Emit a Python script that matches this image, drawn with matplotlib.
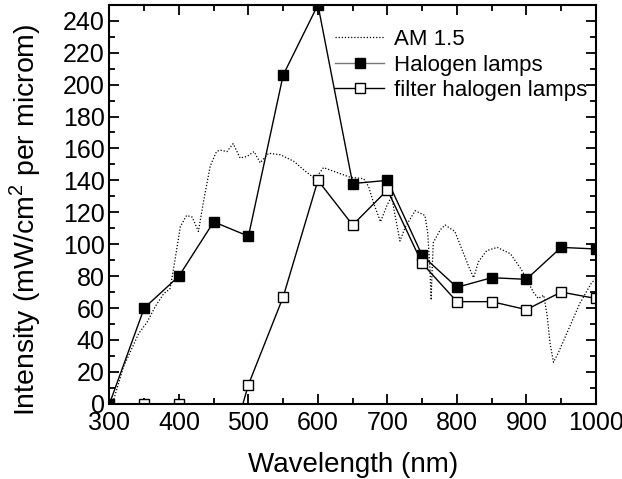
import matplotlib
matplotlib.use("Agg")
import matplotlib.pyplot as plt
from matplotlib.ticker import MultipleLocator

plt.rcParams['font.family'] = ['Liberation Sans', 'DejaVu Sans']
plt.rcParams['mathtext.fontset'] = 'custom'
plt.rcParams['mathtext.rm'] = 'Liberation Sans'

# AM 1.5 spectrum
am_wl = [305, 320, 342, 354, 366, 378, 387, 392, 402, 411, 419, 428, 435, 445, 454,
         459, 469, 478, 488, 498, 508, 517, 529, 546, 565, 584, 596, 608, 627, 646,
         666, 673, 680, 690, 699, 706, 711, 718, 726, 740, 754, 758, 761, 763, 764,
         766, 776, 783, 797, 807, 817, 824, 831, 843, 858, 877, 893, 910, 917, 925,
         930, 934, 939, 946, 963, 977, 994, 1000]
am_val = [1, 23, 44, 51, 61, 69, 72, 84, 111, 118, 117, 108, 126, 149, 158,
          159, 158, 163, 154, 155, 158, 151, 157, 156, 152, 145, 141, 148, 145, 142,
          141, 136, 126, 114, 124, 130, 118, 102, 111, 121, 118, 107, 86, 65, 80,
          101, 109, 112, 108, 97, 86, 79, 89, 96, 98, 94, 84, 70, 66, 68,
          55, 38, 26, 32, 49, 63, 76, 78]

# Halogen lamps
hal_wl = [300, 350, 400, 450, 500, 550, 600, 650, 700, 750, 800, 850, 900, 950, 1000]
hal_val = [0, 60, 80, 114, 105, 206, 250, 138, 140, 93, 73, 79, 78, 98, 97]

# Filtered halogen lamps
fil_wl = [350, 400, 450, 500, 550, 600, 650, 700, 750, 800, 850, 900, 950, 1000]
fil_val = [0, 0, -63, 12, 67, 140, 112, 134, 88, 64, 64, 59, 70, 66]

fig = plt.figure(figsize=(6.22, 4.79), dpi=100)
ax = fig.add_axes([0.176, 0.157, 0.782, 0.833])

ax.plot(am_wl, am_val, linestyle=(0, (1, 1.5)), color='black', linewidth=0.9,
        label='AM 1.5')
ax.plot(hal_wl, hal_val, '-', color='black', linewidth=1.0, marker='s',
        markersize=7.5, markerfacecolor='black', markeredgecolor='black',
        label='Halogen lamps')
ax.plot(fil_wl, fil_val, '-', color='black', linewidth=1.0, marker='s',
        markersize=7.0, markerfacecolor='white', markeredgecolor='black',
        markeredgewidth=1.0, label='filter halogen lamps')

ax.set_xlim(300, 1000)
ax.set_ylim(0, 250)
ax.xaxis.set_major_locator(MultipleLocator(100))
ax.xaxis.set_minor_locator(MultipleLocator(50))
ax.yaxis.set_major_locator(MultipleLocator(20))
ax.yaxis.set_minor_locator(MultipleLocator(10))
ax.tick_params(which='both', direction='in', top=True, right=True, width=1.3)
ax.tick_params(which='major', length=7, labelsize=18)
ax.tick_params(axis='x', which='major', pad=5)
ax.tick_params(axis='y', which='major', pad=3.5)
ax.tick_params(which='minor', length=4)
for s in ax.spines.values():
    s.set_linewidth(1.5)

ax.set_xlabel('Wavelength (nm)', fontsize=20)
ax.set_ylabel('Intensity (mW/cm$^2$ per microm)', fontsize=20.5)
ax.xaxis.set_label_coords(0.5, -0.12)
ax.yaxis.set_label_coords(-0.136, 0.462)

leg = ax.legend(loc='upper right', frameon=False, fontsize=16,
                handlelength=2.2, handletextpad=0.45, labelspacing=0.2,
                borderaxespad=0.3, bbox_to_anchor=(1.015, 0.978))
leg.get_lines()[1].set_color('#777777')
leg.get_lines()[1].set_markerfacecolor('black')
leg.get_lines()[1].set_markeredgecolor('black')

fig.savefig('out.png', dpi=100)
